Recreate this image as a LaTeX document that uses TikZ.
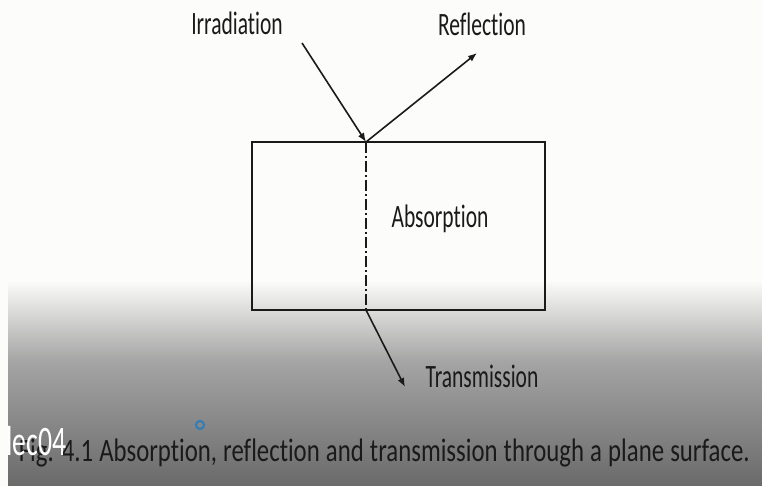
\documentclass[tikz,border=0pt]{standalone}
\usepackage{fontspec}
\setmainfont{Carlito}[FakeStretch=0.66, Ligatures=CommonOff]
\newfontfamily\captionfont{Carlito}[FakeStretch=0.76, Ligatures=CommonOff, WordSpace=1.1]
\usetikzlibrary{arrows.meta, positioning}

\definecolor{paper}{HTML}{FCFCFA}
\definecolor{fadegray}{HTML}{A4A4A4}
\definecolor{deepgray}{HTML}{6A6A6A}
\definecolor{inkblack}{HTML}{1A1A1A}
\definecolor{cursorblue}{HTML}{2F7DB8}

\begin{document}
\begin{tikzpicture}[
  x=1pt, y=-1pt,
  lbl/.style={font=\fontsize{32.6}{36}\selectfont, inner sep=0pt, text=inkblack},
  ray/.style={-{Latex[length=9pt, width=7pt]}, line width=1.6pt, draw=inkblack},
  slab/.style={draw=inkblack, line width=2.8pt, minimum width=293pt, minimum height=168pt, inner sep=0pt}
]
\useasboundingbox (0,0) rectangle (762,486);
% background with the grey fade at the bottom
\fill[paper] (0,0) rectangle (762,486);
\shade[top color=paper, bottom color=fadegray] (8,280) rectangle (762,362);
\shade[top color=fadegray, bottom color=deepgray] (8,362) rectangle (762,486);

% the plate
\node[slab] (plate) at (398.5,226) {};
\coordinate (hit)  at (366,142);
\coordinate (exit) at (366,310);
\draw[inkblack, line width=1.2pt, dash pattern=on 11pt off 3pt on 2pt off 3pt] (hit) -- (exit);

% labels
\node[lbl, anchor=base] (irr)   at (237,35)  {Irradiation};
\node[lbl, anchor=base] (refl)  at (482,36)  {Reflection};
\node[lbl, anchor=base] (absn)  at (440,227) {Absorption};
\node[lbl, anchor=base] (trans) at (482,387) {Transmission};

% rays
\coordinate (irrTail)  at (302,43);
\coordinate (reflTip)  at (477,53);
\coordinate (transTip) at (405,387);
\draw[ray] (irrTail) -- (hit);
\draw[ray] (hit) -- (reflTip);
\draw[ray] (exit) -- (transTip);

% caption
\node[lbl, font=\captionfont\fontsize{32.6}{36}\selectfont, anchor=base east] (caption) at (750,461)
  {Fig. 4.1 Absorption, reflection and transmission through a plane surface.};
\node[font=\fontsize{42}{44}\selectfont, text=white, inner sep=0pt, anchor=base west] (tag) at (6,455) {lec04};
\node[circle, draw=cursorblue, line width=2pt, minimum size=8pt, inner sep=0pt] (dot) at (200,425) {};
\end{tikzpicture}
\end{document}
